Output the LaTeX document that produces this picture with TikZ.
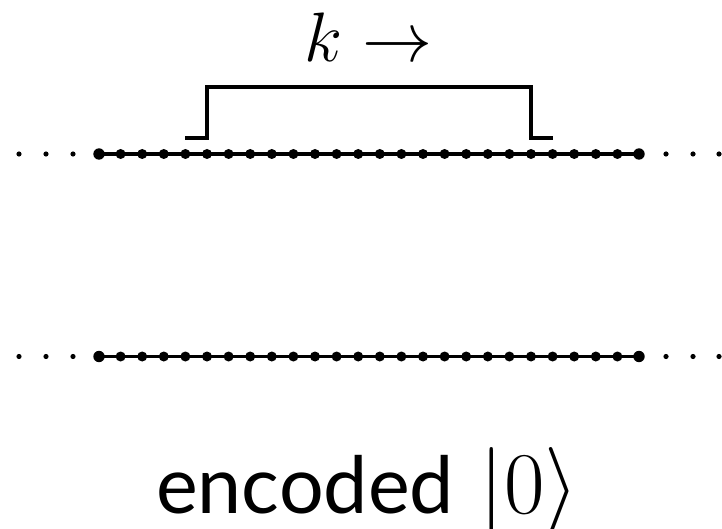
\RequirePackage{fix-cm}
\documentclass[tikz,border=0pt]{standalone}
\usepackage{fontspec}
\setsansfont{Lato}
\usetikzlibrary{calc}
\begin{document}
\begin{tikzpicture}[x=1pt,y=1pt,
  site/.style={circle,fill=black,inner sep=0pt,minimum size=10pt},
  endsite/.style={circle,fill=black,inner sep=0pt,minimum size=11.4pt},
  gapdot/.style={circle,fill=black,inner sep=0pt,minimum size=5.2pt},
  chain/.style={line width=3.8pt},
  window/.style={line width=4pt}]
\useasboundingbox (0,0) rectangle (722,528);

% two chains of 26 sites each
\foreach \row/\y in {top/374,bot/171.5} {
  \foreach \i in {0,...,25}
    \node[site] (\row\i) at ({99+21.6*\i},\y) {};
  \draw[chain] (\row0.center) -- (\row25.center);
  \node[endsite] (\row first) at (\row0) {};
  \node[endsite] (\row last) at (\row25) {};
  % continuation dots on both sides
  \foreach \x [count=\j] in {19,46,73}
    \node[gapdot] (\row L\j) at (\x,\y) {};
  \foreach \x [count=\j] in {666,693,719}
    \node[gapdot] (\row R\j) at (\x,\y) {};
}

% window of the translated operator
\draw[window] ([yshift=16pt]top4.center) -- ([yshift=16pt]top5.center)
  -- ([yshift=67pt]top5.center) -- ([yshift=67pt]top20.center)
  -- ([yshift=16pt]top20.center) -- ([yshift=16pt]top21.center);

\node[anchor=base,inner sep=0pt] (shift) at (368.5,466)
  {\fontsize{70}{84}\selectfont$k\rightarrow$};

\node[anchor=base west,inner sep=0pt] (label) at (156,15)
  {{\sffamily\fontsize{79}{95}\selectfont encoded}\hspace{26pt}{\fontsize{88}{100}\selectfont$|0\rangle$}};
\end{tikzpicture}
\end{document}
